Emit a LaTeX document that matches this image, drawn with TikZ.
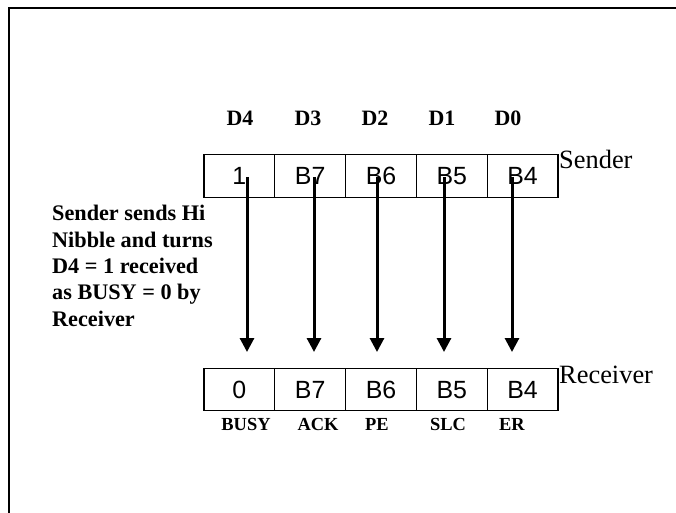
\documentclass[tikz,border=0pt]{standalone}
\usepackage{fontspec}
\setmainfont{Liberation Serif}
\newfontfamily\arialfont{Liberation Sans}
\usetikzlibrary{arrows.meta}
\begin{document}
\begin{tikzpicture}[x=1bp,y=-1bp,
  cell/.style={draw,line width=1.2bp,minimum width=70.8bp,minimum height=42.5bp,inner sep=0pt,
    font=\arialfont\fontsize{25}{28}\selectfont,text depth=0pt},
  dlabel/.style={anchor=base,inner sep=0pt,font=\bfseries\fontsize{22}{26}\selectfont},
  blabel/.style={anchor=base,inner sep=0pt,font=\bfseries\fontsize{18.5}{22}\selectfont},
  side/.style={anchor=base west,inner sep=0pt,font=\fontsize{26.5}{30}\selectfont},
  flow/.style={line width=3bp,-{Triangle[width=14bp,length=14bp]}}]
\useasboundingbox (0,0) rectangle (676,513);
% frame
\draw[line width=2.2bp] (9,513) -- (9,8) -- (676,8);
% labels
\node[dlabel] (d4) at (240,126) {D4};
\node[dlabel] (d3) at (308,126) {D3};
\node[dlabel] (d2) at (375,126) {D2};
\node[dlabel] (d1) at (442,126) {D1};
\node[dlabel] (d0) at (508,126) {D0};
% sender cells
\node[cell] (s1) at (239.4,176) {1};
\node[cell] (s2) at (310.2,176) {B7};
\node[cell] (s3) at (381,176) {B6};
\node[cell] (s4) at (451.8,176) {B5};
\node[cell] (s5) at (522.6,176) {B4};
\node[side] (snd) at (559,169) {Sender};
% receiver cells
\node[cell] (r1) at (239.4,389.5) {0};
\node[cell] (r2) at (310.2,389.5) {B7};
\node[cell] (r3) at (381,389.5) {B6};
\node[cell] (r4) at (451.8,389.5) {B5};
\node[cell] (r5) at (522.6,389.5) {B4};
\node[side] (rcv) at (559,383) {Receiver};
% bottom labels
\node[blabel] (l1) at (246,430) {BUSY};
\node[blabel] (l2) at (318,430) {ACK};
\node[blabel] (l3) at (377,430) {PE};
\node[blabel] (l4) at (448,430) {SLC};
\node[blabel] (l5) at (512,430) {ER};
% note
\node[anchor=north west,inner sep=0pt,align=left,font=\bfseries\fontsize{22.3}{26.5}\selectfont] (note) at (52,205)
  {Sender sends Hi\\Nibble and turns\\D4 = 1 received\\as BUSY = 0 by\\Receiver};
% arrows
\coordinate (a1) at (247,177); \coordinate (b1) at (247,352);
\coordinate (a2) at (314,177); \coordinate (b2) at (314,352);
\coordinate (a3) at (377,177); \coordinate (b3) at (377,352);
\coordinate (a4) at (444,177); \coordinate (b4) at (444,352);
\coordinate (a5) at (512,177); \coordinate (b5) at (512,352);
\foreach \i in {1,...,5}{\draw[flow] (a\i) -- (b\i);}
\end{tikzpicture}
\end{document}
